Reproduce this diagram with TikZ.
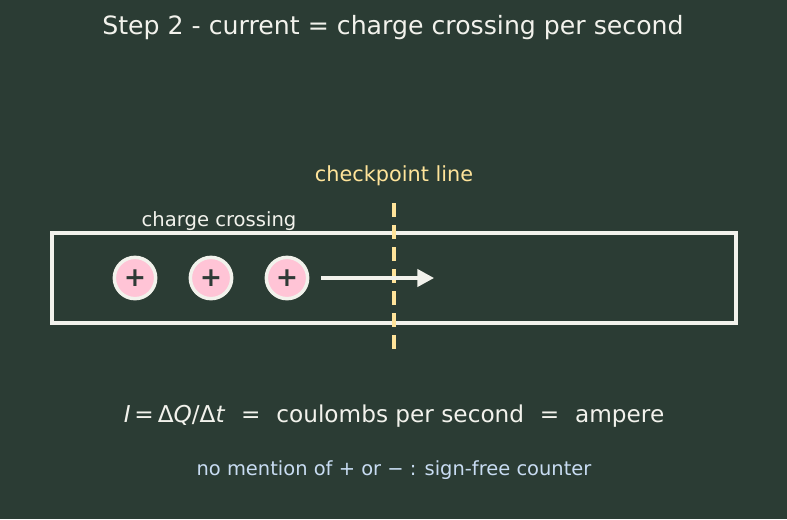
\documentclass[tikz,border=0pt]{standalone}
\usepackage{fontspec}
\usetikzlibrary{arrows.meta}
\setmainfont{DejaVu Sans}
\definecolor{bgdark}{HTML}{2B3C34}
\definecolor{chalk}{HTML}{F2F2EC}
\definecolor{checkyel}{HTML}{FFE49A}
\definecolor{chargepink}{HTML}{FFC4D6}
\definecolor{notblue}{HTML}{C8DCF2}
\definecolor{plusdark}{HTML}{2E3A36}
\tikzset{
  charge/.style={circle,draw=chalk,line width=2.6pt,fill=chargepink,
    minimum size=31pt,inner sep=0pt,text=plusdark,
    font=\fontsize{20}{20}\selectfont\bfseries},
  lbl/.style={inner sep=0pt,anchor=center}
}
\begin{document}
\begin{tikzpicture}[x=0.75pt,y=-0.75pt]
  \fill[bgdark] (0,0) rectangle (787,519);
  \useasboundingbox (0,0) rectangle (787,519);
  \node[lbl,text=chalk,font=\fontsize{18.9}{20}\selectfont] (title) at (393,27.5)
    {Step 2 - current = charge crossing per second};
  % wire
  \draw[chalk,line width=2.4pt] (52,233) rectangle (736,323);
  % checkpoint
  \coordinate (cptop) at (394,203);
  \coordinate (cpbot) at (394,352);
  \draw[checkyel,line width=2.4pt,dash pattern=on 10.5pt off 6pt] (cptop) -- (cpbot);
  \node[lbl,text=checkyel,font=\fontsize{15.6}{17}\selectfont] (cplabel) at (394,176)
    {checkpoint line};
  \node[lbl,text=chalk,font=\fontsize{14.7}{16}\selectfont] (crosslabel) at (219,221)
    {charge crossing};
  % charges
  \node[charge] (q1) at (135,278) {+};
  \node[charge] (q2) at (211,278) {+};
  \node[charge] (q3) at (287,278) {+};
  \coordinate (tip) at (434,278);
  \draw[chalk,line width=2.4pt,-{Triangle[length=12.5pt,width=13pt]}]
    (q3.east) ++(12,0) -- (tip);
  % bottom text
  \node[lbl,text=chalk,font=\fontsize{17.4}{19}\selectfont] (formula) at (394,416.5)
    {\textit{I}\,=\,Δ\textit{Q}/Δ\textit{t}\hspace{0.68em}=\hspace{0.68em}coulombs per second\hspace{0.68em}=\hspace{0.68em}ampere};
  \node[lbl,text=notblue,font=\fontsize{14.6}{16}\selectfont] (note) at (394,470)
    {no mention of + or − : sign-free counter};
\end{tikzpicture}
\end{document}
